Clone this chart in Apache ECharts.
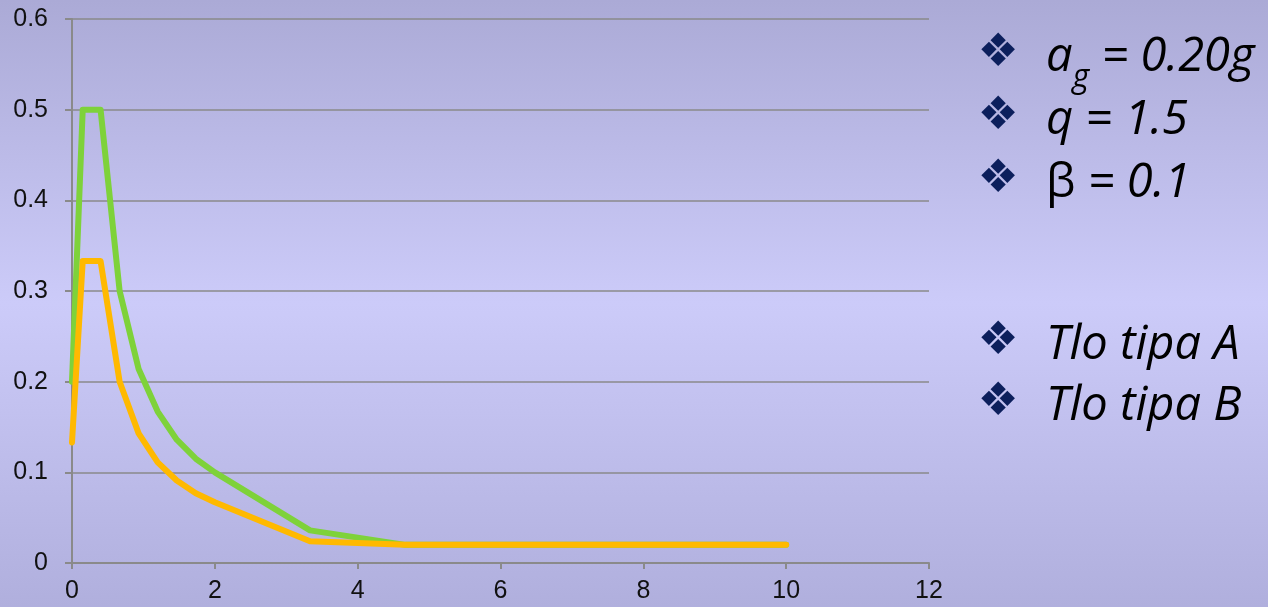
<!DOCTYPE html>
<html>
<head>
<meta charset="utf-8">
<title>Spektar</title>
<script src="https://cdn.jsdelivr.net/npm/echarts@6/dist/echarts.min.js"></script>
<style>
  html, body { margin: 0; padding: 0; }
  #chart { width: 1268px; height: 607px; }
</style>
</head>
<body>
<div id="chart"></div>
<script>
// period T [s]
var periods = [0, 0.15, 0.4, 0.667, 0.933, 1.2, 1.467, 1.733, 2.0, 3.333, 4.667, 6, 7.333, 8.667, 10];
// Tlo tipa A (zelena)
var soilA = [0.2, 0.5, 0.5, 0.3, 0.214, 0.167, 0.136, 0.115, 0.1, 0.036, 0.02, 0.02, 0.02, 0.02, 0.02];
// Tlo tipa B (narancasta)
var soilB = [0.133, 0.333, 0.333, 0.2, 0.143, 0.111, 0.091, 0.077, 0.067, 0.024, 0.02, 0.02, 0.02, 0.02, 0.02];

var notes = [
  "{t|a}{s|g}{t| = 0.20g}",
  "{t|q = 1.5}",
  "{n|\u03b2}{t| = 0.1}",
  "{t|Tlo tipa A}",
  "{t|Tlo tipa B}"
];
var noteY = [58, 121, 184, 346, 407];

function pairs(xs, ys) {
  var out = [];
  for (var i = 0; i < xs.length; i++) {
    out.push([xs[i], ys[i]]);
  }
  return out;
}

var navy = "#0c1f5c";
var sans = "'Open Sans'";
var richStyle = {
  t: { fontFamily: sans, fontStyle: "italic", fontWeight: "normal", fontSize: 47, color: navy, lineHeight: 60 },
  n: { fontFamily: sans, fontStyle: "normal", fontWeight: "normal", fontSize: 47, color: navy, lineHeight: 60 },
  // subscript g, pushed down with top padding
  s: { fontFamily: sans, fontStyle: "italic", fontWeight: "normal", fontSize: 32, color: navy, lineHeight: 32, padding: [34, 0, 0, 0], verticalAlign: "top" }
};

var graphics = [];
for (var k = 0; k < notes.length; k++) {
  // bullet
  graphics.push({
    type: "text",
    x: 998,
    y: noteY[k] - 4,
    style: {
      text: "\u2756",
      font: "46px 'DejaVu Sans'",
      fill: navy,
      align: "center",
      verticalAlign: "middle"
    }
  });
  graphics.push({
    type: "text",
    x: 1046,
    y: noteY[k],
    style: { text: notes[k], rich: richStyle, align: "left", verticalAlign: "middle" }
  });
}

var chart = echarts.init(document.getElementById("chart"));
var option = {
  animation: false,
  backgroundColor: new echarts.graphic.LinearGradient(0, 0, 0, 1, [
    { offset: 0, color: "#abaad6" },
    { offset: 0.5, color: "#cccbf9" },
    { offset: 1, color: "#b0afdd" }
  ]),
  grid: { left: 72, top: 19, right: 339, bottom: 44 },
  xAxis: {
    type: "value",
    min: 0,
    max: 12,
    interval: 2,
    axisLine: { lineStyle: { color: "#8a8a8a", width: 2 } },
    axisTick: { show: true, length: 6, lineStyle: { color: "#8a8a8a", width: 2 } },
    axisLabel: { margin: 16, color: "#111", fontSize: 25, fontFamily: "Liberation Sans" },
    splitLine: { show: false }
  },
  yAxis: {
    type: "value",
    min: 0,
    max: 0.6,
    interval: 0.1,
    axisLine: { show: true, lineStyle: { color: "#8a8a8a", width: 2 } },
    axisTick: { show: true, length: 7, lineStyle: { color: "#8a8a8a", width: 2 } },
    axisLabel: { margin: 24, color: "#111", fontSize: 25, fontFamily: "Liberation Sans" },
    splitLine: { show: true, lineStyle: { color: "#8a8a8a", width: 1.5 } }
  },
  series: [
    {
      name: "Tlo tipa A",
      type: "line",
      data: pairs(periods, soilA),
      showSymbol: false,
      lineStyle: { color: "#7ed23a", width: 6, cap: "round", join: "round" }
    },
    {
      name: "Tlo tipa B",
      type: "line",
      data: pairs(periods, soilB),
      showSymbol: false,
      lineStyle: { color: "#ffb900", width: 6, cap: "round", join: "round" }
    }
  ],
  graphic: graphics
};
chart.setOption(option);
</script>
</body>
</html>
